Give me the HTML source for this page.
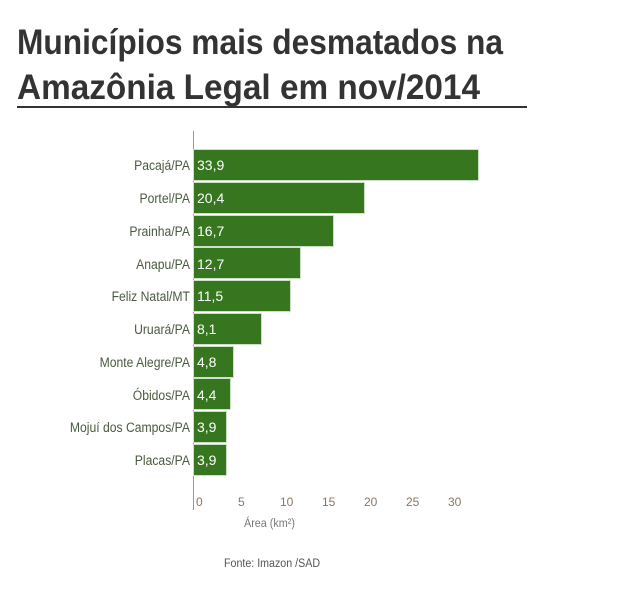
<!DOCTYPE html>
<html><head><meta charset="utf-8"><style>
body{margin:0;background:#fff;width:644px;height:593px;overflow:hidden}
svg{display:block}
</style></head><body>
<svg width="644" height="593" xmlns="http://www.w3.org/2000/svg" font-family="Liberation Sans, sans-serif">
<text x="17" y="54" font-size="35" font-weight="bold" fill="#333" textLength="486" lengthAdjust="spacingAndGlyphs">Municípios mais desmatados na</text>
<text x="17" y="99" font-size="35" font-weight="bold" fill="#333" textLength="463" lengthAdjust="spacingAndGlyphs">Amazônia Legal em nov/2014</text>
<rect x="17" y="106" width="510" height="2" fill="#333"/>
<line x1="193.5" y1="131" x2="193.5" y2="510" stroke="#999" stroke-width="1"/>
<g fill="#36761e" stroke="#cfe0c8" stroke-width="1">
<rect x="193.5" y="149.5" width="285" height="31"/>
<rect x="193.5" y="182.5" width="171" height="31"/>
<rect x="193.5" y="215.5" width="140" height="31"/>
<rect x="193.5" y="247.5" width="107" height="31"/>
<rect x="193.5" y="280.5" width="97" height="31"/>
<rect x="193.5" y="313.5" width="68" height="31"/>
<rect x="193.5" y="346.5" width="40" height="31"/>
<rect x="193.5" y="378.5" width="37" height="31"/>
<rect x="193.5" y="411.5" width="33" height="31"/>
<rect x="193.5" y="444.5" width="33" height="31"/>
</g>
<g font-size="14" fill="#4a5a40" text-anchor="end" transform="translate(190,0) scale(0.87,1)">
<text x="0" y="170">Pacajá/PA</text>
<text x="0" y="203">Portel/PA</text>
<text x="0" y="236">Prainha/PA</text>
<text x="0" y="269">Anapu/PA</text>
<text x="0" y="301">Feliz Natal/MT</text>
<text x="0" y="334">Uruará/PA</text>
<text x="0" y="367">Monte Alegre/PA</text>
<text x="0" y="400">Óbidos/PA</text>
<text x="0" y="432">Mojuí dos Campos/PA</text>
<text x="0" y="465">Placas/PA</text>
</g>
<g font-size="14" fill="#fff">
<text x="197" y="170">33,9</text>
<text x="197" y="203">20,4</text>
<text x="197" y="236">16,7</text>
<text x="197" y="269">12,7</text>
<text x="197" y="301">11,5</text>
<text x="197" y="334">8,1</text>
<text x="197" y="367">4,8</text>
<text x="197" y="400">4,4</text>
<text x="197" y="432">3,9</text>
<text x="197" y="465">3,9</text>
</g>
<g font-size="12" fill="#8a7560">
<text x="196" y="506">0</text>
<text x="238" y="506">5</text>
<text x="280" y="506">10</text>
<text x="322" y="506">15</text>
<text x="364" y="506">20</text>
<text x="406" y="506">25</text>
<text x="448" y="506">30</text>
</g>
<text font-size="12" fill="#777" transform="translate(244,527) scale(0.9,1)">Área (km²)</text>
<text font-size="12" fill="#555" transform="translate(224,567) scale(0.89,1)">Fonte: Imazon /SAD</text>
</svg>
</body></html>
